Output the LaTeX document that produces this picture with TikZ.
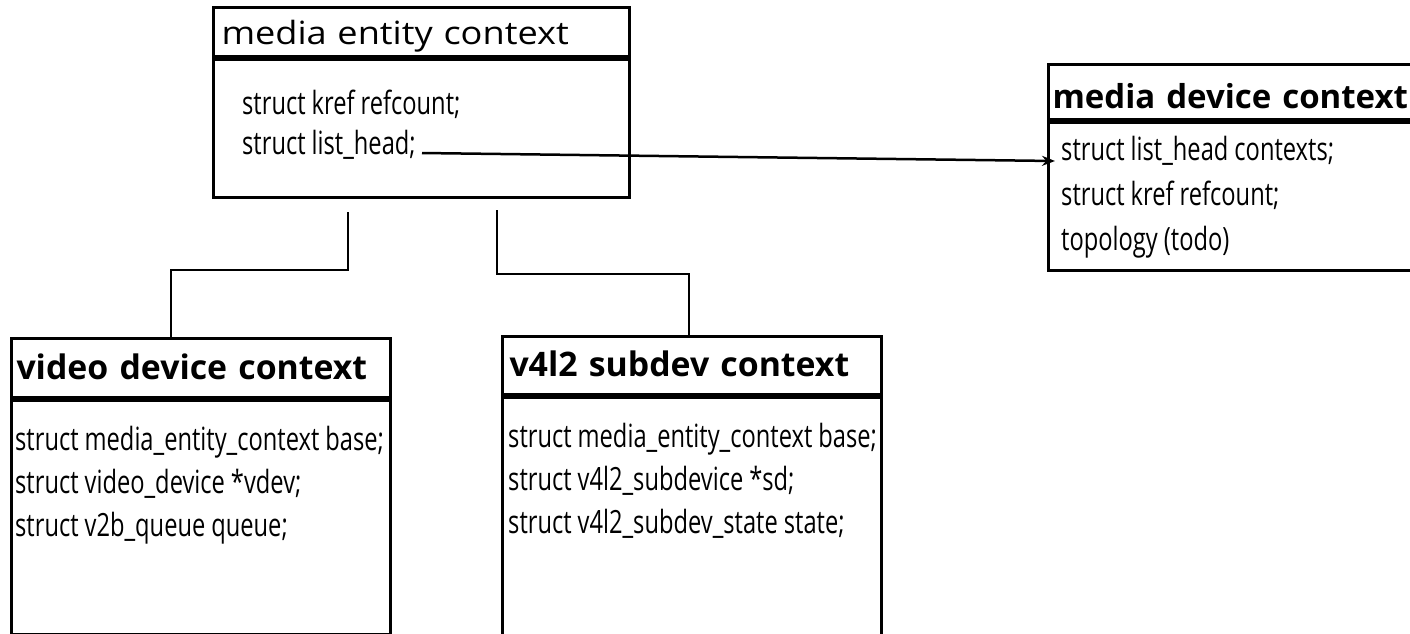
\documentclass[tikz,border=0pt]{standalone}
\usepackage{fontspec}
\setmainfont{Open Sans}
\newfontfamily\condfont{Open Sans}[FakeStretch=0.74]
\newfontfamily\widefont{Open Sans}[FakeStretch=1.13]
\usepackage{tikz}
\usetikzlibrary{arrows.meta, calc, positioning}
\tikzset{
  % Box styles
  headbox/.style={rectangle, draw, line width=3pt, anchor=north west, inner ysep=0pt, align=left},
  bodybox/.style={rectangle, draw, line width=3pt, anchor=north west, inner sep=0pt},
  fields/.style={anchor=base west, inner sep=0pt, text width=600pt, align=left,
    execute at begin node={\spaceskip=6pt plus 1pt\relax}},
  % Font styles
  plaintitle/.style={font=\widefont\fontsize{32}{38}\selectfont},
  boldtitle/.style={font=\bfseries\fontsize{33.8}{40}\selectfont},
  % Arrow styles
  link/.style={line width=2.5pt},
  arrow/.style={-{Stealth[length=13pt,width=10pt]}, line width=2.5pt}
}

\begin{document}
\begin{tikzpicture}[x=1pt, y=-1pt]
  \useasboundingbox (0,0) rectangle (1410,633);

  % Shared entity context
  \node[headbox, plaintitle, inner xsep=8pt, text width=400pt, text height=37pt, text depth=12pt] (enthead) at (212,6) {media entity context};
  \node[bodybox, minimum width=416pt, minimum height=138pt] (entbody) at (enthead.south west) {};
  \node[fields, font=\condfont\fontsize{32}{40}\selectfont] (entfields) at ($(entbody.north west)+(30,56)$) {struct kref refcount;\\struct list\_head;};

  % Media device context
  \node[headbox, boldtitle, font=\bfseries\fontsize{33}{40}\selectfont, inner xsep=4pt, text width=392pt, text height=44pt, text depth=11pt] (devhead) at (1047,63) {media device context};
  \node[bodybox, minimum width=400pt, minimum height=148pt] (devbody) at (devhead.south west) {};
  \node[fields, font=\condfont\fontsize{32}{45}\selectfont] (devfields) at ($(devbody.north west)+(14,39)$) {struct list\_head contexts;\\struct kref refcount;\\topology (todo)};

  % Video device context
  \node[headbox, boldtitle, inner xsep=5pt, text width=369pt, text height=41pt, text depth=18pt] (vidhead) at (10,337) {video device context};
  \node[bodybox, minimum width=379pt, minimum height=234pt] (vidbody) at (vidhead.south west) {};
  \node[fields, font=\condfont\fontsize{32}{43}\selectfont] (vidfields) at ($(vidbody.north west)+(5,51)$) {struct media\_entity\_context base;\\struct video\_device *vdev;\\struct v2b\_queue queue;};

  % V4L2 subdev context
  \node[headbox, boldtitle, inner xsep=7pt, text width=365pt, text height=40pt, text depth=18pt] (subhead) at (501,335) {v4l2 subdev context};
  \node[bodybox, minimum width=379pt, minimum height=238pt] (subbody) at (subhead.south west) {};
  \node[fields, font=\condfont\fontsize{32}{43}\selectfont] (subfields) at ($(subbody.north west)+(7,51)$) {struct media\_entity\_context base;\\struct v4l2\_subdevice *sd;\\struct v4l2\_subdev\_state state;};

  % Connectors
  \coordinate (entleft) at ($(entbody.south west)+(136,13)$);
  \coordinate (entright) at ($(entbody.south west)+(285,11)$);
  \coordinate (vidtop) at ($(vidhead.north west)+(161,0)$);
  \coordinate (subtop) at ($(subhead.north west)+(188,0)$);
  \draw[link] (entleft) -- ++(0,58) -| (vidtop);
  \draw[link] (entright) -- ++(0,64) -| (subtop);

  \coordinate (lhout) at ($(entfields.base west)+(180,39)$);
  \coordinate (ctxin) at ($(devbody.north west)+(8,40)$);
  \draw[arrow] (lhout) -- (ctxin);
\end{tikzpicture}
\end{document}
